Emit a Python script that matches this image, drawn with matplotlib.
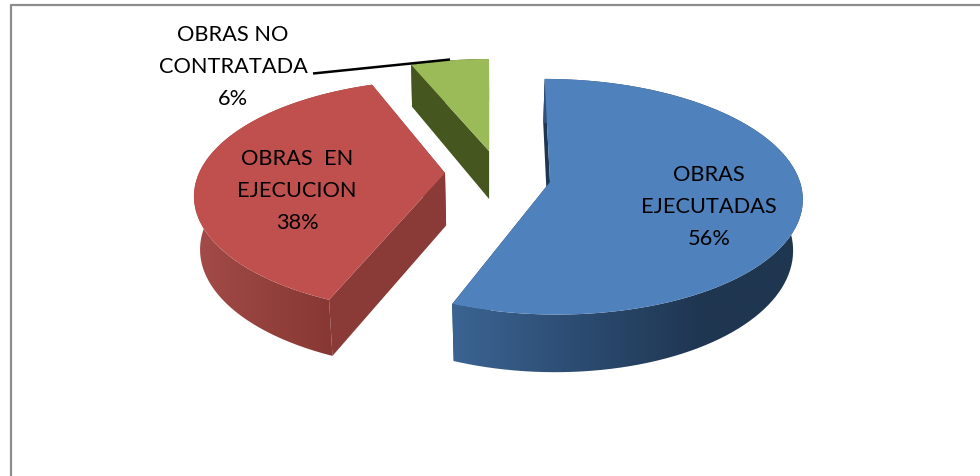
import matplotlib
matplotlib.use("Agg")
import matplotlib.pyplot as plt
import numpy as np
from matplotlib.colors import to_rgb
from matplotlib.patches import Polygon
from matplotlib.path import Path
from matplotlib.transforms import Affine2D, Transform

# data
categories = ["OBRAS\nEJECUTADAS", "OBRAS  EN\nEJECUCION", "OBRAS NO\nCONTRATADA"]
values = [56, 38, 6]

plt.rcParams["font.family"] = ["Lato", "DejaVu Sans"]


class Tilt(Transform):
    # unit pie -> tilted pie, in picture coordinates
    input_dims = 2
    output_dims = 2
    is_separable = False

    def __init__(self, apex, rx, ry, k, sx=0):
        super().__init__()
        self.apex, self.rx, self.ry, self.k, self.sx = apex, rx, ry, k, sx

    def transform_non_affine(self, xy):
        xy = np.asarray(xy, dtype=float)
        w = 1 + self.k * xy[:, 1]
        return np.column_stack((self.apex[0] + (self.rx * xy[:, 0] + self.sx * xy[:, 1]) / w,
                                self.apex[1] - self.ry * xy[:, 1] / w))


# one style per slice: blue, red, green
tops = ["#4f81bd", "#c0504d", "#9bbb59"]
shifts = [0, 1.0, 0]
tilts = [Tilt((550, 183), 250, 116, 0.125, sx=-6),
         Tilt((445, 174), 246, 112, 0.2),
         Tilt((489, 152), 236, 103.5, 0.125)]
# depth of the wall: (y0, depth0, y1, depth1)
depths = [(80, 44, 305, 57), (83, 50, 297, 56), (66, 42, 152, 48)]
shrink = [0.968, 0.98, 0.99]
face_cols = ["#1f3651", "#8a3a37", "#46561f"]
rim_grad = [([452, 570, 700, 800], ["#3b6492", "#2d4d73", "#1f3651", "#1f3651"]),
            ([196, 250, 330], ["#a34b48", "#97433f", "#883834"]),
            ([400, 500], ["#46561f", "#46561f"])]

fig = plt.figure(figsize=(9.8, 4.77), dpi=100)
ax = fig.add_axes([0, 0, 1, 1])

wedges, _ = ax.pie(values, startangle=90, counterclock=False, radius=1,
                   wedgeprops=dict(linewidth=0))


def drop(pts, depth, s):
    # bottom of the slice, a bit smaller because it is further away
    y0, d0, y1, d1 = depth
    d = d0 + (pts[:, 1] - y0) * (d1 - d0) / (y1 - y0)
    return np.column_stack((500 + (pts[:, 0] - 500) * s, pts[:, 1] + d))


for i, w in enumerate(wedges):
    rot = Affine2D().rotate_deg(-shifts[i])
    to_pic = rot + tilts[i]
    w.set_transform(to_pic + ax.transData)
    w.set_facecolor(tops[i])
    w.set_zorder(3)

    ang = np.radians(np.linspace(w.theta1, w.theta2, 200))
    rim = to_pic.transform(np.column_stack((np.cos(ang), np.sin(ang))))
    rim_low = drop(rim, depths[i], shrink[i])
    apex = np.array([tilts[i].apex], dtype=float)
    apex_low = drop(apex, depths[i], shrink[i])

    # cut faces
    for end, end_low in ((rim[:1], rim_low[:1]), (rim[-1:], rim_low[-1:])):
        face = np.vstack((apex, end, end_low, apex_low))
        ax.add_patch(Polygon(face, closed=True, fc=face_cols[i], ec="none", zorder=2))

    # outer wall with the shading from left to right
    wall = np.vstack((rim, rim_low[::-1]))
    xs, cols = rim_grad[i]
    grid = np.arange(980)
    rgb = np.array([to_rgb(c) for c in cols])
    strip = np.stack([np.interp(grid, xs, rgb[:, c]) for c in range(3)], axis=-1)[None, :, :]
    im = ax.imshow(strip, extent=(0, 980, 477, 0), aspect="auto", zorder=2.5,
                   interpolation="bilinear")
    im.set_clip_path(Path(np.vstack((wall, wall[:1]))), transform=ax.transData)

ax.set_aspect("auto")
ax.set_xlim(0, 980)
ax.set_ylim(477, 0)
ax.axis("off")

# outer frame, cut by the picture on the right and at the bottom
ax.plot([10.5, 10.5, 985], [485, 5.5, 5.5], color="#8c8c8c", lw=1.6, zorder=1, clip_on=False)

# leader line for the small slice
ax.plot([313, 450], [74.5, 60.5], color="black", lw=1.8, zorder=5, solid_capstyle="butt")

label_xy = [(709, 207), (297, 191), (233, 67)]
for name, val, (x, y) in zip(categories, values, label_xy):
    ax.text(x, y, f"{name}\n{val}%", ha="center", va="center", fontsize=15.7,
            linespacing=1.76, color="black", zorder=6)

fig.savefig("out.png", dpi=100)
